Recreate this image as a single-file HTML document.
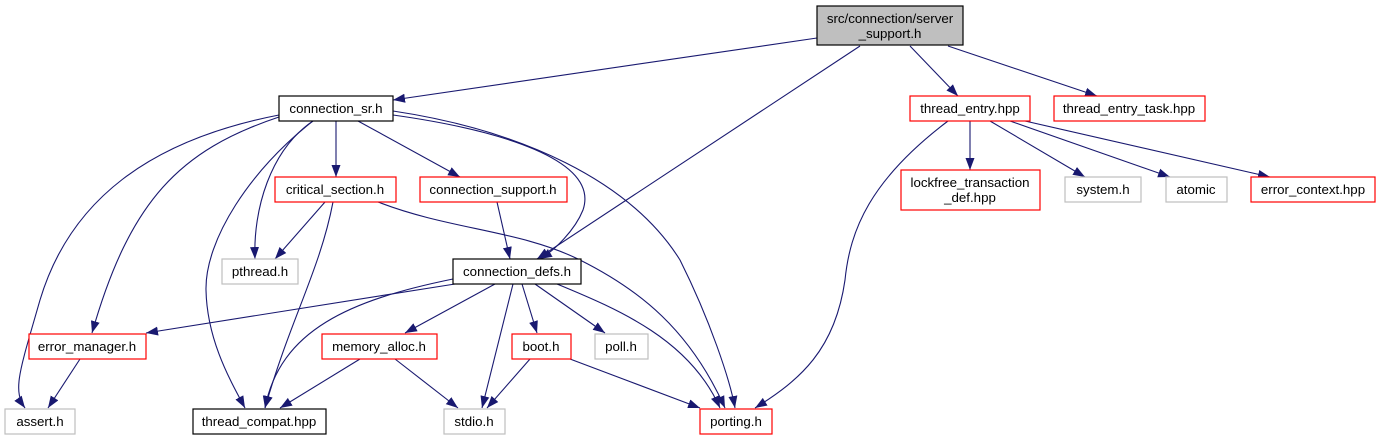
<!DOCTYPE html>
<html><head><meta charset="utf-8"><style>
html,body{margin:0;padding:0;background:#fff;}
svg text{font-family:"Liberation Sans",sans-serif;font-size:13.3px;}
</style></head><body>
<svg width="1377" height="440" viewBox="0 0 1377 440" xmlns="http://www.w3.org/2000/svg">
<defs>
<marker id="a" markerUnits="userSpaceOnUse" markerWidth="13" markerHeight="10" refX="12" refY="5" orient="auto">
<path d="M0,0.5 L12,5 L0,9.5 Z" fill="#191970"/>
</marker>
</defs>
<g fill="none" stroke="#191970" stroke-width="1.1" marker-end="url(#a)">
<path d="M817,38 L393,100"/>
<path d="M860,46 L537,259"/>
<path d="M910,46 L958,96"/>
<path d="M948,46 L1097,96"/>
<path d="M336,121 L336,177"/>
<path d="M358,121 L460,177"/>
<path d="M313,121 C270,150 253,210 255,259"/>
<path d="M313,121 C250,170 205,240 206,290 C207,340 230,380 245,408"/>
<path d="M279,115 C150,140 70,200 40,300 C20,370 12,390 25,408"/>
<path d="M279,117 C180,150 130,200 92,333"/>
<path d="M393,115 C500,130 600,160 583,210 C575,230 555,250 540,259"/>
<path d="M393,111 C520,130 630,180 680,260 C710,320 730,380 735,408"/>
<path d="M325,202 L275,259"/>
<path d="M333,202 C320,270 290,320 265,408"/>
<path d="M378,202 C450,230 520,230 580,260 C640,290 690,330 725,408"/>
<path d="M497,202 L510,259"/>
<path d="M455,284 L146,333"/>
<path d="M453,279 C350,300 280,330 265,408"/>
<path d="M495,284 L405,333"/>
<path d="M513,284 L482,408"/>
<path d="M522,284 L537,333"/>
<path d="M535,284 L605,333"/>
<path d="M557,284 C620,310 690,340 720,408"/>
<path d="M80,359 L48,408"/>
<path d="M360,359 L280,408"/>
<path d="M395,359 L458,408"/>
<path d="M530,359 L487,408"/>
<path d="M570,359 L700,408"/>
<path d="M948,121 C870,180 850,230 845,280 C835,350 800,380 755,408"/>
<path d="M970,121 L970,170"/>
<path d="M990,121 L1085,177"/>
<path d="M1010,121 L1170,177"/>
<path d="M1025,121 L1270,177"/>
</g>
<g stroke-width="1.2" fill="#fff">
<rect x="817" y="6" width="146" height="39" fill="#bfbfbf" stroke="#000"/>
<rect x="279" y="96" width="114" height="25" stroke="#000"/>
<rect x="275" y="177" width="121" height="25" stroke="#ff0000"/>
<rect x="420" y="177" width="147" height="25" stroke="#ff0000"/>
<rect x="222" y="259" width="76" height="25" stroke="#bfbfbf"/>
<rect x="453" y="259" width="128" height="25" stroke="#000"/>
<rect x="29" y="334" width="117" height="25" stroke="#ff0000"/>
<rect x="322" y="334" width="115" height="25" stroke="#ff0000"/>
<rect x="512" y="334" width="59" height="25" stroke="#ff0000"/>
<rect x="595" y="334" width="53" height="25" stroke="#bfbfbf"/>
<rect x="5" y="409" width="70" height="25" stroke="#bfbfbf"/>
<rect x="193" y="409" width="133" height="25" stroke="#000"/>
<rect x="444" y="409" width="61" height="25" stroke="#bfbfbf"/>
<rect x="700" y="409" width="72" height="25" stroke="#ff0000"/>
<rect x="910" y="96" width="120" height="25" stroke="#ff0000"/>
<rect x="1054" y="96" width="151" height="25" stroke="#ff0000"/>
<rect x="901" y="170" width="139" height="40" stroke="#ff0000"/>
<rect x="1065" y="177" width="76" height="25" stroke="#bfbfbf"/>
<rect x="1166" y="177" width="61" height="25" stroke="#bfbfbf"/>
<rect x="1251" y="177" width="124" height="25" stroke="#ff0000"/>
</g>
<g fill="#000" text-anchor="middle">
<text x="890" y="23">src/connection/server</text>
<text x="890" y="38">_support.h</text>
<text x="336" y="113">connection_sr.h</text>
<text x="335" y="194">critical_section.h</text>
<text x="493" y="194">connection_support.h</text>
<text x="260" y="276">pthread.h</text>
<text x="517" y="276">connection_defs.h</text>
<text x="87" y="351">error_manager.h</text>
<text x="379" y="351">memory_alloc.h</text>
<text x="541" y="351">boot.h</text>
<text x="621" y="351">poll.h</text>
<text x="40" y="426">assert.h</text>
<text x="259" y="426">thread_compat.hpp</text>
<text x="474" y="426">stdio.h</text>
<text x="736" y="426">porting.h</text>
<text x="970" y="113">thread_entry.hpp</text>
<text x="1129" y="113">thread_entry_task.hpp</text>
<text x="970" y="187">lockfree_transaction</text>
<text x="970" y="202">_def.hpp</text>
<text x="1103" y="194">system.h</text>
<text x="1196" y="194">atomic</text>
<text x="1313" y="194">error_context.hpp</text>
</g>
</svg>
</body></html>
